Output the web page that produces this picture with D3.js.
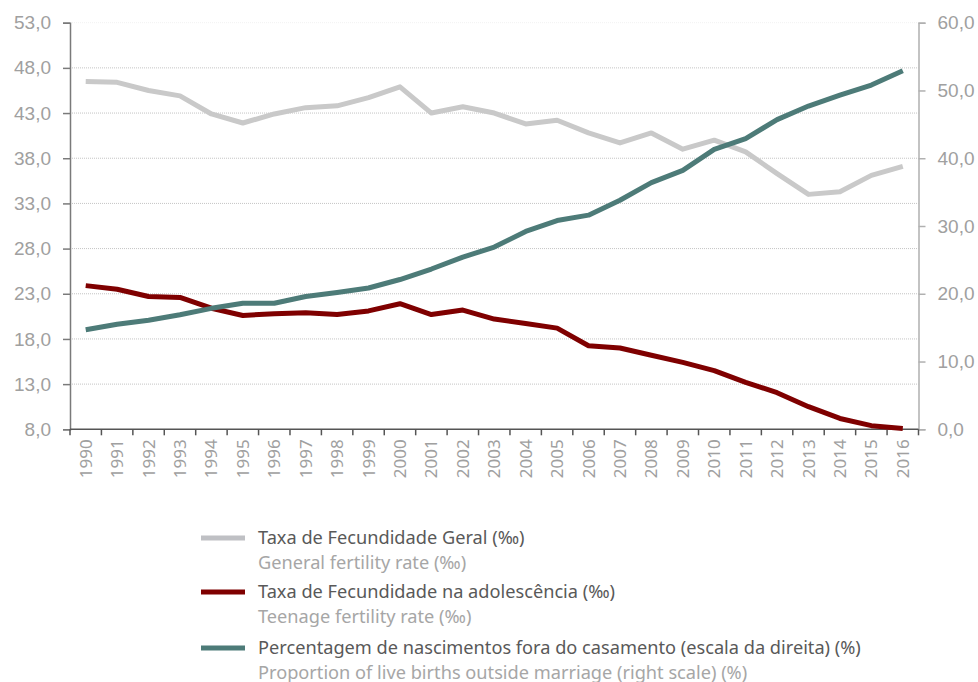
<!DOCTYPE html>
<html>
<head>
<meta charset="utf-8">
<script src="https://cdn.jsdelivr.net/npm/d3@7"></script>
<style>
  body { margin: 0; background: #fff; }
  svg { font-family: "Noto Sans", "Open Sans", sans-serif; }
</style>
</head>
<body>
<div id="chart"></div>
<script>
// data
var years = d3.range(1990, 2017).map(String);
var generalRate = [46.5, 46.4, 45.5, 44.9, 42.9, 41.9, 42.9, 43.6, 43.8, 44.7, 45.9, 43.0, 43.7, 43.0, 41.8, 42.2, 40.8, 39.7, 40.8, 39.0, 40.0, 38.7, 36.3, 34.0, 34.3, 36.1, 37.1];
var teenRate = [23.9, 23.5, 22.7, 22.6, 21.4, 20.6, 20.8, 20.9, 20.7, 21.1, 21.9, 20.7, 21.2, 20.2, 19.7, 19.2, 17.25, 17.0, 16.2, 15.4, 14.5, 13.2, 12.05, 10.5, 9.2, 8.4, 8.1];
var outsideMarriage = [14.7, 15.5, 16.1, 16.9, 17.85, 18.6, 18.6, 19.6, 20.2, 20.85, 22.1, 23.65, 25.4, 26.9, 29.2, 30.8, 31.6, 33.8, 36.4, 38.2, 41.3, 42.9, 45.7, 47.7, 49.3, 50.8, 52.9];
var leftTicks = [8, 13, 18, 23, 28, 33, 38, 43, 48, 53];
var rightTicks = [0, 10, 20, 30, 40, 50, 60];
var legendPt = ["Taxa de Fecundidade Geral (‰)", "Taxa de Fecundidade na adolescência (‰)", "Percentagem de nascimentos fora do casamento (escala da direita) (%)"];
var legendEn = ["General fertility rate (‰)", "Teenage fertility rate (‰)", "Proportion of live births outside marriage (right scale) (%)"];
var colors = ["#c9c9c9", "#7f0000", "#4d7b78"];

var width = 978, height = 682;
var svg = d3.select("#chart").append("svg")
    .attr("width", width)
    .attr("height", height);

var x = d3.scaleBand().domain(years).range([70, 918.5]);
var yL = d3.scaleLinear().domain([8, 53]).range([429.3, 22.7]);
var yR = d3.scaleLinear().domain([0, 60]).range([429.3, 22.7]);
var fmt = function(d) { return d3.format(".1f")(d).replace(".", ","); };

// gridlines
svg.append("g").selectAll("line")
    .data(leftTicks.filter(function(d) { return d > 8; }))
    .enter().append("line")
    .attr("x1", 70).attr("x2", 918.5)
    .attr("y1", function(d) { return yL(d); })
    .attr("y2", function(d) { return yL(d); })
    .attr("stroke", function(d) { return d == 53 ? "#f2f2f2" : "#c4c4c4"; })
    .attr("stroke-dasharray", "1,1");

// left axis
var gl = svg.append("g").attr("transform", "translate(70,0)")
    .call(d3.axisLeft(yL).tickValues(leftTicks).tickFormat(fmt).tickSize(7).tickPadding(12));
gl.select(".domain").attr("stroke", "#7a7a7a").attr("stroke-width", 1.5);
gl.selectAll(".tick line").attr("stroke", "#7a7a7a").attr("stroke-width", 1.5);
gl.selectAll("text").attr("fill", "#a0a0a0").style("font-size", "19px");

// right axis
var gr = svg.append("g").attr("transform", "translate(918.5,0)")
    .call(d3.axisRight(yR).tickValues(rightTicks).tickFormat(fmt).tickSize(7).tickPadding(12));
gr.select(".domain").attr("stroke", "#b0b0b0").attr("stroke-width", 1.5);
gr.selectAll(".tick line").attr("stroke", "#b0b0b0").attr("stroke-width", 1.5);
gr.selectAll("text").attr("fill", "#a0a0a0").style("font-size", "19px");

// bottom axis, ticks between categories
var gb = svg.append("g").attr("transform", "translate(0,429.3)");
gb.append("line").attr("x1", 70).attr("x2", 918.5)
    .attr("stroke", "#555").attr("stroke-width", 1.5);
gb.selectAll(".tk").data(years.concat(["end"])).enter().append("line")
    .attr("class", "tk")
    .attr("x1", function(d) { return d == "end" ? 918.5 : x(d); })
    .attr("x2", function(d) { return d == "end" ? 918.5 : x(d); })
    .attr("y1", 0).attr("y2", 6)
    .attr("stroke", "#555").attr("stroke-width", 1.5);
gb.selectAll("text").data(years).enter().append("text")
    .attr("transform", function(d) {
        return "translate(" + (x(d) + x.bandwidth() / 2 + 6) + ",10) rotate(-90)";
    })
    .attr("text-anchor", "end")
    .attr("fill", "#a0a0a0")
    .style("font-size", "17px")
    .text(function(d) { return d; });

// lines
var series = [
    { vals: generalRate, scale: yL },
    { vals: teenRate, scale: yL },
    { vals: outsideMarriage, scale: yR }
];
series.forEach(function(s, i) {
    var line = d3.line()
        .x(function(d, j) { return x(years[j]) + x.bandwidth() / 2; })
        .y(function(d) { return s.scale(d); });
    svg.append("path")
        .datum(s.vals)
        .attr("d", line)
        .attr("fill", "none")
        .attr("stroke", colors[i])
        .attr("stroke-width", 5)
        .attr("stroke-linejoin", "round");
});

// legend
var legY = [538, 592, 648];
var lg = svg.append("g").selectAll("g").data(legendPt).enter().append("g")
    .attr("transform", function(d, i) { return "translate(0," + legY[i] + ")"; });
lg.append("line")
    .attr("x1", 201).attr("x2", 245)
    .attr("stroke", function(d, i) { return i == 0 ? "#bfc0c4" : colors[i]; })
    .attr("stroke-width", 5);
lg.append("text")
    .attr("x", 258).attr("y", 6)
    .attr("fill", "#595959")
    .style("font-size", "18.2px")
    .text(function(d) { return d; });
lg.append("text")
    .attr("x", 258).attr("y", 31)
    .attr("fill", "#a6a6a6")
    .style("font-size", "18.2px")
    .text(function(d, i) { return legendEn[i]; });
</script>
</body>
</html>
